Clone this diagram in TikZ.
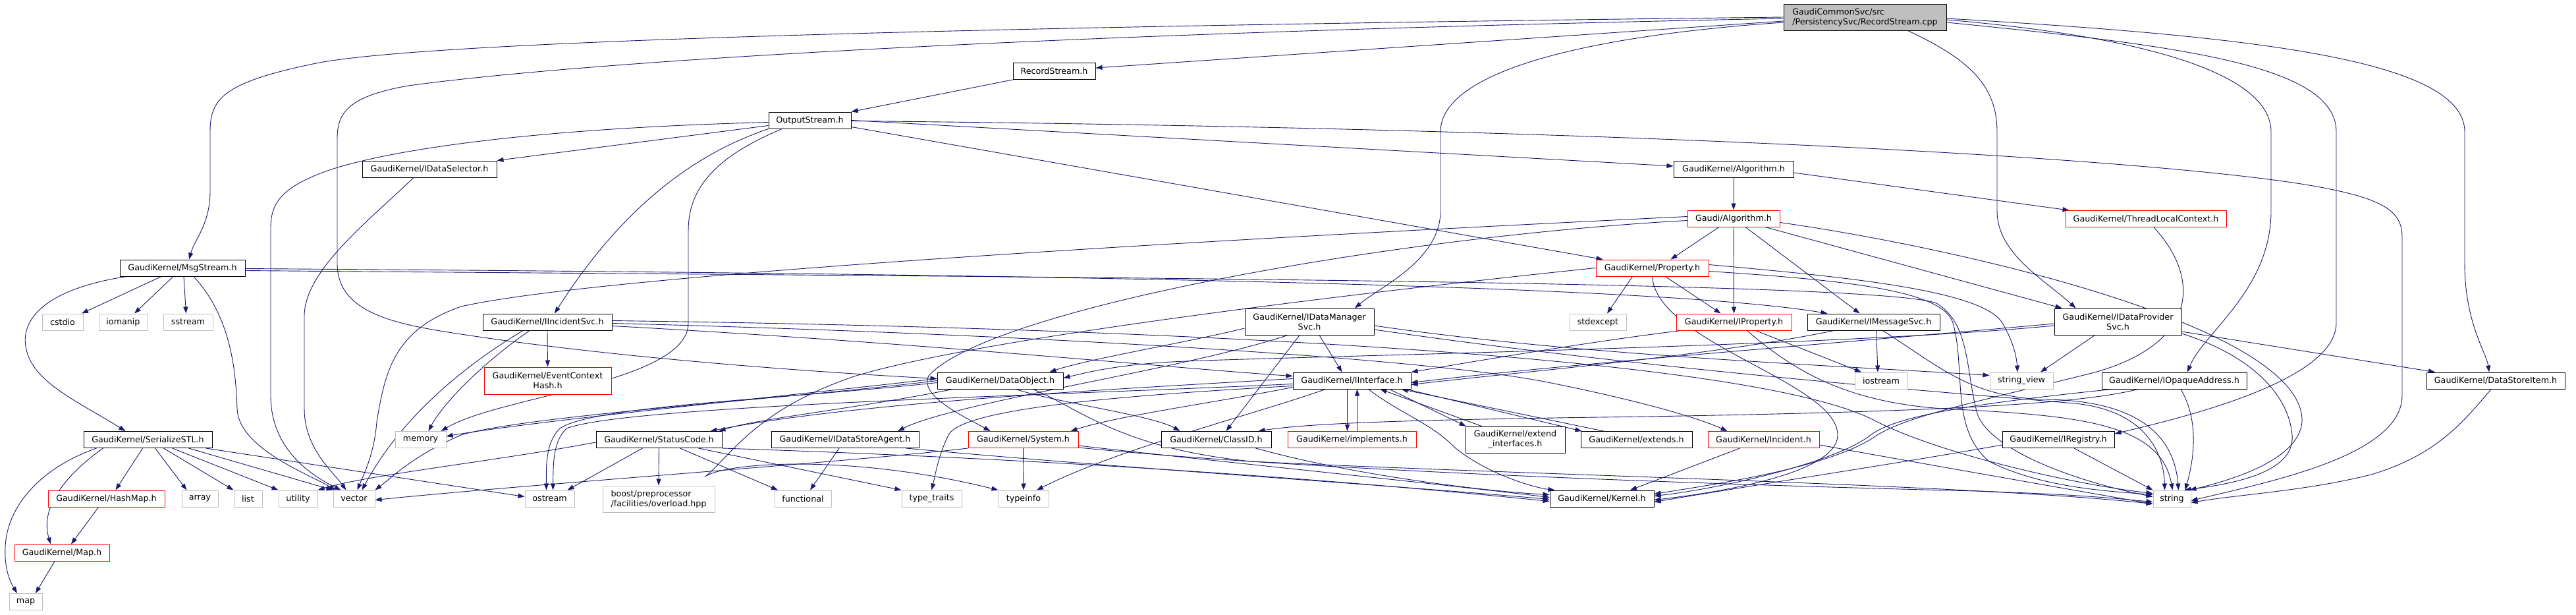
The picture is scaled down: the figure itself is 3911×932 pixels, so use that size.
\documentclass[tikz,border=0pt]{standalone}
\usepackage{fontspec}
\setmainfont{DejaVu Sans}
\usetikzlibrary{arrows.meta}
\definecolor{ec}{HTML}{191970}
\definecolor{redb}{HTML}{FF0000}
\definecolor{grayb}{HTML}{BFBFBF}
\definecolor{rootf}{HTML}{BFBFBF}
\pgfdeclarelayer{bg}
\pgfsetlayers{bg,main}
\begin{document}
\begin{tikzpicture}[x=1pt,y=-1pt,font=\fontsize{12.7}{15}\selectfont,
  box/.style={draw=black,fill=white,line width=1pt,inner sep=0pt,minimum height=25pt,align=center},
  rbox/.style={box,draw=redb},
  gbox/.style={box,draw=grayb},
  e/.style={draw=ec,line width=0.9pt,-{Triangle[length=10pt,width=7pt]}}]
\useasboundingbox (0,0) rectangle (3911,932);
% nodes
\node[box,fill=rootf,minimum width=247,minimum height=40,align=left] (root) at (2831.5,26) {GaudiCommonSvc/src\\/PersistencySvc/RecordStream.cpp};
\node[box,minimum width=125] (recs) at (1600.5,108) {RecordStream.h};
\node[box,minimum width=125] (outs) at (1229.5,182.5) {OutputStream.h};
\node[box,minimum width=204] (idsel) at (652,256.5) {GaudiKernel/IDataSelector.h};
\node[box,minimum width=182] (gkalg) at (2632,257) {GaudiKernel/Algorithm.h};
\node[rbox,minimum width=140] (galg) at (2632,331.5) {Gaudi/Algorithm.h};
\node[rbox,minimum width=244] (tlc) at (3258,332) {GaudiKernel/ThreadLocalContext.h};
\node[box,minimum width=190] (msg) at (277,406.5) {GaudiKernel/MsgStream.h};
\node[rbox,minimum width=171] (prop) at (2508.5,406.5) {GaudiKernel/Property.h};
\node[gbox,minimum width=62] (cstdio) at (95,488.5) {cstdio};
\node[gbox,minimum width=74] (iomanip) at (187,488.5) {iomanip};
\node[gbox,minimum width=75] (sstream) at (285.5,488.5) {sstream};
\node[box,minimum width=196] (iinc) at (831,488.5) {GaudiKernel/IIncidentSvc.h};
\node[box,minimum width=196,minimum height=40] (idm) at (1988,488) {GaudiKernel/IDataManager\\Svc.h};
\node[gbox,minimum width=86] (stdexcept) at (2426,488.5) {stdexcept};
\node[rbox,minimum width=175] (iprop) at (2632.5,488.5) {GaudiKernel/IProperty.h};
\node[box,minimum width=201] (imsg) at (2844.5,488.5) {GaudiKernel/IMessageSvc.h};
\node[box,minimum width=193,minimum height=40] (idp) at (3215.5,488) {GaudiKernel/IDataProvider\\Svc.h};
\node[rbox,minimum width=193,minimum height=41] (ech) at (831.5,577.5) {GaudiKernel/EventContext\\Hash.h};
\node[box,minimum width=191] (dobj) at (1518.5,577.5) {GaudiKernel/DataObject.h};
\node[box,minimum width=179] (iint) at (2052.5,577.5) {GaudiKernel/IInterface.h};
\node[gbox,minimum width=96] (sview) at (3069,577.5) {string\_view};
\node[box,minimum width=220] (iopq) at (3301,577.5) {GaudiKernel/IOpaqueAddress.h};
\node[box,minimum width=210] (dsi) at (3789,577.5) {GaudiKernel/DataStoreItem.h};
\node[gbox,minimum width=80] (iostream) at (2856,577.5) {iostream};
\node[box,minimum width=195] (sstl) at (224.5,667) {GaudiKernel/SerializeSTL.h};
\node[gbox,minimum width=77] (memory) at (638.5,667) {memory};
\node[box,minimum width=191] (sc) at (1000.5,667) {GaudiKernel/StatusCode.h};
\node[box,minimum width=224] (idsa) at (1283,667) {GaudiKernel/IDataStoreAgent.h};
\node[rbox,minimum width=167] (sys) at (1553.5,667) {GaudiKernel/System.h};
\node[box,minimum width=167] (cid) at (1846.5,667) {GaudiKernel/ClassID.h};
\node[rbox,minimum width=195] (impl) at (2052.5,667) {GaudiKernel/implements.h};
\node[box,minimum width=151,minimum height=40] (extif) at (2300.5,667) {GaudiKernel/extend\\\_interfaces.h};
\node[box,minimum width=169] (ext) at (2484.5,667) {GaudiKernel/extends.h};
\node[rbox,minimum width=169] (inc) at (2677.5,667) {GaudiKernel/Incident.h};
\node[box,minimum width=170] (ireg) at (3125,667) {GaudiKernel/IRegistry.h};
\node[rbox,minimum width=177] (hmap) at (161.5,756.5) {GaudiKernel/HashMap.h};
\node[gbox,minimum width=55] (array) at (303.5,756.5) {array};
\node[gbox,minimum width=43] (list) at (376.5,756.5) {list};
\node[gbox,minimum width=59] (utility) at (452.5,756.5) {utility};
\node[gbox,minimum width=63] (vector) at (537.5,756.5) {vector};
\node[gbox,minimum width=75] (ostream) at (834.5,756.5) {ostream};
\node[gbox,minimum width=170,minimum height=40,align=left] (boost) at (1000,757) {boost/preprocessor\\/facilities/overload.hpp};
\node[gbox,minimum width=86] (functional) at (1219,756.5) {functional};
\node[gbox,minimum width=91] (ttraits) at (1414.5,756.5) {type\_traits};
\node[gbox,minimum width=76] (typeinfo) at (1554,756.5) {typeinfo};
\node[box,minimum width=158] (kernel) at (2432,756.5) {GaudiKernel/Kernel.h};
\node[gbox,minimum width=57] (string) at (3297.5,756.5) {string};
\node[rbox,minimum width=144] (maph) at (94,838.5) {GaudiKernel/Map.h};
\node[gbox,minimum width=50] (map) at (39,913) {map};
\begin{pgfonlayer}{bg}
\fill[white] (0,0) rectangle (3911,932);
% root edges
\draw[e] ([yshift=-6]root.west) -- ([yshift=5]recs.east);
\draw[e] (root.west) .. controls (1500,40) and (650,62) .. (480,96) .. controls (338,125) and (319,150) .. (319,200) -- (319,290) .. controls (319,340) and (296,362) .. ([xshift=10]msg.north);
\draw[e] ([yshift=-2]root.west) .. controls (1600,50) and (900,92) .. (620,130) .. controls (530,146) and (512,170) .. (512,210) -- (512,400) .. controls (512,475) and (600,492) .. (700,507) .. controls (950,545) and (1250,565) .. ([yshift=3]dobj.west);
\draw[e] ([yshift=-8]root.west) .. controls (2400,55) and (2187,110) .. (2187,200) -- (2187,320) .. controls (2187,395) and (2095,435) .. ([xshift=69]idm.north);
\draw[e] ([xshift=65]root.south) .. controls (2990,90) and (3032,130) .. (3032,200) -- (3032,320) .. controls (3032,385) and (3105,425) .. ([xshift=-64]idp.north);
\draw[e] ([yshift=-4]root.east) .. controls (3250,55) and (3448,110) .. (3448,200) -- (3448,320) .. controls (3448,440) and (3345,505) .. ([xshift=20]iopq.north);
\draw[e] ([yshift=-8]root.east) .. controls (3320,70) and (3547,100) .. (3547,200) -- (3547,490) .. controls (3547,575) and (3330,630) .. ([yshift=9]ireg.east);
\draw[e] ([yshift=-2]root.east) .. controls (3420,55) and (3742,90) .. (3742,200) -- (3742,400) .. controls (3742,490) and (3775,535) .. ([xshift=-10]dsi.north);
% RecordStream / OutputStream
\draw[e] (recs.south west) -- (outs.north east);
\draw[e] ([yshift=-8]outs.west) -- (idsel.north east);
\draw[e] ([yshift=-3]outs.west) .. controls (800,195) and (590,228) .. (500,258) .. controls (432,282) and (411,305) .. (411,345) -- (411,600) .. controls (411,680) and (470,720) .. ([xshift=-20]vector.north);
\draw[e] (outs.south west) .. controls (1080,225) and (960,290) .. ([xshift=11]iinc.north);
\draw[e] ([xshift=-42]outs.south) .. controls (1080,240) and (1045,290) .. (1045,350) -- (1045,490) .. controls (1045,580) and (760,600) .. ([xshift=-8]memory.north east);
\draw[e] (outs.east) -- ([yshift=5]gkalg.west);
\draw[e] ([yshift=-10]outs.east) -- ([xshift=-75]prop.north);
\draw[e] ([yshift=-1]outs.east) .. controls (2500,195) and (3250,240) .. (3500,280) .. controls (3620,300) and (3647,320) .. (3647,360) -- (3647,600) .. controls (3647,690) and (3450,730) .. ([yshift=-3]string.east);
\draw[e] ([xshift=-24]idsel.south) .. controls (560,335) and (462,410) .. (462,480) -- (462,620) .. controls (462,680) and (505,715) .. ([xshift=-12]vector.north);
% Algorithm
\draw[e] (gkalg.south) -- (galg.north);
\draw[e] ([yshift=-5]gkalg.east) -- ([xshift=6]tlc.north west);
\draw[e] ([xshift=-22]galg.south) -- ([xshift=28]prop.north);
\draw[e] (galg.south) -- (iprop.north);
\draw[e] ([xshift=18]galg.south) -- ([xshift=-21]imsg.north);
\draw[e] ([xshift=48]galg.south) -- ([xshift=-85]idp.north);
\draw[e] ([yshift=-6]galg.east) .. controls (3000,380) and (3500,500) .. (3495,640) .. controls (3490,700) and (3380,730) .. ([xshift=-2]string.north east);
\draw[e] ([yshift=-3]galg.west) .. controls (2100,360) and (1500,470) .. (1410,570) .. controls (1395,600) and (1460,630) .. ([xshift=-50]sys.north);
\draw[e] ([yshift=3]galg.west) .. controls (1700,370) and (900,420) .. (700,465) .. controls (600,500) and (585,560) .. (572,640) .. controls (568,690) and (552,720) .. ([xshift=5]vector.north);
\draw[e] ([xshift=12]tlc.south) .. controls (3340,420) and (3340,520) .. (3180,565) .. controls (3000,610) and (2900,630) .. (2850,660) .. controls (2780,710) and (2600,735) .. ([yshift=7]kernel.east);
% MsgStream
\draw[e] ([yshift=-1]msg.east) .. controls (1500,415) and (2500,430) .. ([xshift=-70]imsg.north);
\draw[e] ([yshift=-4]msg.east) .. controls (1500,420) and (2850,425) .. (2940,460) .. controls (2990,490) and (2985,560) .. (3000,620) .. controls (3010,680) and (3150,730) .. ([yshift=3]string.west);
\draw[e] ([xshift=-85]msg.south) .. controls (60,440) and (30,490) .. (40,530) .. controls (50,580) and (120,610) .. ([xshift=-34]sstl.north);
\draw[e] ([xshift=-32]msg.south) -- ([xshift=29]cstdio.north);
\draw[e] ([xshift=-14]msg.south) -- ([xshift=17]iomanip.north);
\draw[e] ([xshift=2]msg.south) -- ([xshift=-3]sstream.north);
\draw[e] ([xshift=17]msg.south) .. controls (350,480) and (358,560) .. (360,620) .. controls (362,680) and (470,720) .. ([xshift=-28]vector.north);
% Property
\draw[e] ([xshift=-30]prop.south) -- ([xshift=14]stdexcept.north);
\draw[e] ([xshift=20]prop.south) -- ([xshift=-20]iprop.north);
\draw[e] (prop.south) .. controls (2515,520) and (2790,580) .. (2790,660) .. controls (2790,720) and (2600,748) .. ([yshift=-2]kernel.east);
\draw[e] ([yshift=5]prop.east) .. controls (2800,420) and (3010,440) .. (3040,490) .. controls (3058,520) and (3062,545) .. ([xshift=-6]sview.north);
\draw[e] ([yshift=-5]prop.east) .. controls (2800,425) and (2950,440) .. (2965,490) .. controls (2985,560) and (2960,650) .. (3020,700) .. controls (3100,740) and (3200,745) .. ([yshift=6]string.west);
\draw[e] (prop.west) .. controls (2100,440) and (1500,510) .. (1300,570) .. controls (1150,620) and (1110,690) .. (1072,722) .. controls (1110,700) and (1300,690) .. (typeinfo.north west);
% IIncidentSvc
\draw[e] (iinc.south) -- (ech.north);
\draw[e] ([xshift=-37]iinc.south) .. controls (680,570) and (600,650) .. ([xshift=12]vector.north);
\draw[e] ([xshift=-27]iinc.south) .. controls (720,560) and (668,620) .. ([xshift=12]memory.north);
\draw[e] ([yshift=-6]iinc.east) .. controls (1400,520) and (1800,560) .. ([yshift=7]iint.west);
\draw[e] ([yshift=-2]iinc.east) .. controls (1500,505) and (2150,540) .. (2350,580) .. controls (2500,610) and (2580,635) .. ([xshift=-55]inc.north);
\draw[e] ([yshift=2]iinc.east) .. controls (1600,495) and (2650,530) .. (2850,640) .. controls (2950,690) and (3150,735) .. ([yshift=8]string.west);
% IDataManagerSvc
\draw[e] ([yshift=-10]idm.west) .. controls (1800,520) and (1650,545) .. ([xshift=75]dobj.north);
\draw[e] ([xshift=-33]idm.south) .. controls (1800,560) and (1450,610) .. ([xshift=80]idsa.north);
\draw[e] ([xshift=-15]idm.south) -- ([xshift=15]cid.north);
\draw[e] ([xshift=15]idm.south) -- ([xshift=-15]iint.north);
\draw[e] ([yshift=-6]idm.east) .. controls (2400,540) and (2800,555) .. ([yshift=8]sview.west);
\draw[e] ([yshift=-12]idm.east) .. controls (2500,560) and (2950,595) .. (3150,612) .. controls (3250,622) and (3285,680) .. ([xshift=-11]string.north);
% IDataProviderSvc
\draw[e] ([yshift=-3]idp.west) .. controls (2800,520) and (2400,550) .. ([yshift=-3]iint.east);
\draw[e] ([yshift=-6]idp.west) .. controls (2800,525) and (2000,540) .. (1800,548) .. controls (1700,552) and (1650,565) .. ([yshift=4]dobj.east);
\draw[e] ([xshift=-35]idp.south) -- ([xshift=29]sview.north);
\draw[e] ([yshift=-15]idp.east) -- ([xshift=-92]dsi.north);
\draw[e] ([yshift=-18]idp.east) .. controls (3420,540) and (3475,600) .. (3480,660) .. controls (3485,720) and (3380,735) .. ([xshift=-10]string.north east);
\draw[e] ([xshift=-7]dsi.south) .. controls (3740,640) and (3700,690) .. (3600,720) .. controls (3500,745) and (3400,750) .. ([yshift=-6]string.east);
% IOpaqueAddress, IRegistry
\draw[e] ([xshift=-95]iopq.south) .. controls (3000,612) and (2880,630) .. (2840,660) .. controls (2790,700) and (2620,740) .. ([yshift=4]kernel.east);
\draw[e] ([xshift=-55]iopq.south) .. controls (3150,615) and (2900,625) .. (2500,632) .. controls (2200,636) and (2000,640) .. ([xshift=-20]cid.north east);
\draw[e] ([xshift=10]iopq.south) .. controls (3340,640) and (3330,700) .. ([xshift=20]string.north);
\draw[e] ([yshift=-8]ireg.west) .. controls (2900,700) and (2700,730) .. ([yshift=-5]kernel.east);
\draw[e] ([xshift=24]ireg.south) -- (string.north west);
% IMessageSvc, IProperty
\draw[e] ([xshift=-60]imsg.south) .. controls (2600,540) and (2300,565) .. ([yshift=-6]iint.east);
\draw[e] ([xshift=4]imsg.south) -- ([xshift=-5]iostream.north);
\draw[e] ([xshift=14]imsg.south) .. controls (2950,560) and (2990,600) .. (3100,606) .. controls (3230,606) and (3300,650) .. ([xshift=10]string.north);
\draw[e] ([xshift=-80]iprop.south) .. controls (2400,520) and (2200,555) .. (iint.north east);
\draw[e] ([xshift=33]iprop.south) -- ([xshift=-30]iostream.north);
\draw[e] ([xshift=20]iprop.south) .. controls (2720,560) and (2800,610) .. (2950,620) .. controls (3150,630) and (3280,640) .. ([xshift=1]string.north);
% Incident, ClassID, System, IDataStoreAgent
\draw[e] ([xshift=-36]inc.south) -- ([xshift=43]kernel.north);
\draw[e] ([yshift=-8]inc.east) .. controls (2900,700) and (3100,735) .. ([yshift=-8]string.west);
\draw[e] ([xshift=-24]cid.south east) .. controls (2050,720) and (2250,745) .. ([yshift=6]kernel.west);
\draw[e] (sys.south) -- (typeinfo.north);
\draw[e] (sys.south west) .. controls (1300,700) and (800,735) .. ([yshift=-2]vector.east);
\draw[e] ([yshift=-9]sys.east) .. controls (1800,695) and (2150,730) .. ([yshift=2]kernel.west);
\draw[e] ([yshift=-12]sys.east) .. controls (2000,715) and (2600,735) .. (3000,745) .. controls (3150,750) and (3200,755) .. ([yshift=-5]string.west);
\draw[e] ([xshift=-9]idsa.south) -- ([xshift=11]functional.north);
\draw[e] ([xshift=-20]idsa.south east) .. controls (1700,710) and (2100,735) .. ([yshift=-1]kernel.west);
% StatusCode
\draw[e] (sc.south) -- (boost.north);
\draw[e] ([xshift=32]sc.south) -- ([xshift=-38]functional.north);
\draw[e] ([xshift=60]sc.south) -- (ttraits.north west);
\draw[e] (sc.south east) .. controls (1700,700) and (2100,735) .. ([yshift=-4]kernel.west);
\draw[e] ([xshift=-25]sc.south) -- ([xshift=27]ostream.north);
\draw[e] ([yshift=-4]sc.west) .. controls (750,700) and (560,720) .. (utility.north east);
% DataObject
\draw[e] ([xshift=-72]dobj.south) .. controls (1300,620) and (1150,635) .. ([xshift=-5]sc.north east);
\draw[e] ([xshift=24]dobj.south) .. controls (1600,610) and (1750,630) .. ([xshift=-55]cid.north);
\draw[e] ([xshift=50]dobj.south) .. controls (1640,620) and (1700,680) .. (1900,700) .. controls (2300,720) and (3000,735) .. ([yshift=-8]string.west);
\draw[e] ([yshift=3]dobj.west) .. controls (1200,600) and (800,640) .. ([yshift=5]memory.east);
\draw[e] (dobj.west) .. controls (1200,605) and (800,630) .. (700,660) .. controls (630,690) and (600,720) .. (vector.north east);
\draw[e] ([yshift=-3]dobj.west) .. controls (1200,605) and (900,615) .. (850,650) .. controls (830,670) and (829,700) .. ([xshift=-5]ostream.north);
% IInterface
\draw[e] ([xshift=-7]iint.south) -- ([xshift=-7]impl.north);
\draw[e] ([xshift=8]impl.north) -- ([xshift=8]iint.south);
\draw[e] ([xshift=25]iint.south) .. controls (2130,630) and (2170,640) .. (2210,680) .. controls (2260,720) and (2330,740) .. ([xshift=8]kernel.north west);
\draw[e] ([xshift=57]iint.south) -- ([xshift=1]extif.north west);
\draw[e] ([xshift=-51]extif.north) -- ([xshift=43]iint.south);
\draw[e] ([xshift=83]iint.south) -- ([xshift=2]ext.north west);
\draw[e] ([xshift=-50]ext.north) -- ([xshift=75]iint.south);
\draw[e] ([yshift=3]iint.west) .. controls (1700,590) and (1300,610) .. ([xshift=-18]sc.north east);
\draw[e] ([yshift=-10]iint.west) .. controls (1850,610) and (1700,630) .. ([xshift=-12]sys.north east);
\draw[e] ([yshift=-8]iint.west) .. controls (1700,600) and (1460,620) .. (1440,660) .. controls (1425,690) and (1420,720) .. (ttraits.north);
\draw[e] ([xshift=-40]iint.south) .. controls (1900,630) and (1700,680) .. ([xshift=20]typeinfo.north);
\draw[e] ([yshift=-5]iint.west) .. controls (1600,600) and (950,615) .. (860,650) .. controls (840,670) and (840,700) .. ([xshift=5]ostream.north);
% SerializeSTL, HashMap, Map
\draw[e] ([xshift=-8]sstl.south) -- ([xshift=14]hmap.north);
\draw[e] ([xshift=11]sstl.south) -- ([xshift=-20]array.north);
\draw[e] ([xshift=24]sstl.south) -- (list.north west);
\draw[e] ([xshift=37]sstl.south) -- (utility.north west);
\draw[e] ([xshift=62]sstl.south) -- (vector.north west);
\draw[e] ([xshift=-10]sstl.south east) -- ([yshift=3]ostream.west);
\draw[e] ([xshift=-68]sstl.south) .. controls (100,720) and (60,770) .. ([xshift=-17]maph.north);
\draw[e] ([xshift=-78]sstl.south) .. controls (60,710) and (10,770) .. (8,830) .. controls (6,870) and (20,890) .. ([xshift=-13]map.north);
\draw[e] ([xshift=-12]hmap.south) -- ([xshift=14]maph.north);
\draw[e] ([xshift=-11]maph.south) -- ([xshift=15]map.north);
\end{pgfonlayer}
\end{tikzpicture}
\end{document}
